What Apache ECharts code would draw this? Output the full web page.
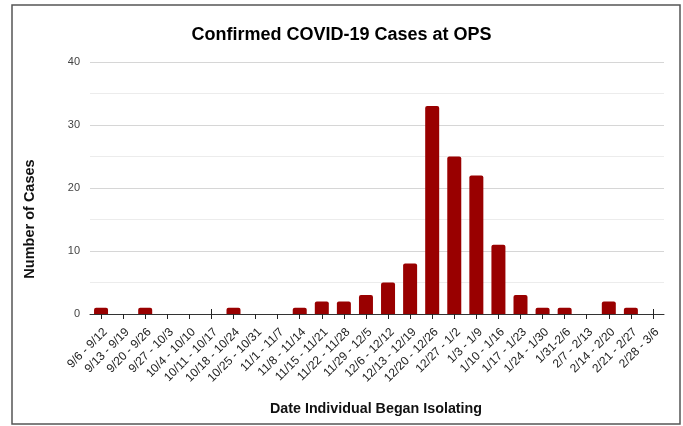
<!DOCTYPE html>
<html><head><meta charset="utf-8">
<script src="https://cdn.jsdelivr.net/npm/echarts@6/dist/echarts.min.js"></script>
<style>html,body{margin:0;padding:0;background:#fff}#c{width:683px;height:426px}</style>
</head><body><div id="c"></div>
<script>
const categories = ["9/6 - 9/12","9/13 - 9/19","9/20 - 9/26","9/27 - 10/3","10/4 - 10/10","10/11 - 10/17","10/18 - 10/24","10/25 - 10/31","11/1 - 11/7","11/8 - 11/14","11/15 - 11/21","11/22 - 11/28","11/29 - 12/5","12/6 - 12/12","12/13 - 12/19","12/20 - 12/26","12/27 - 1/2","1/3 - 1/9","1/10 - 1/16","1/17 - 1/23","1/24 - 1/30","1/31-2/6","2/7 - 2/13","2/14 - 2/20","2/21 - 2/27","2/28 - 3/6"];
const cases = [1,0,1,0,0,0,1,0,0,1,2,2,3,5,8,33,25,22,11,3,1,1,0,2,1,0];
const titleText = "Confirmed COVID-19 Cases at OPS";
const xTitle = "Date Individual Began Isolating";
const yTitle = "Number of Cases";

const chart = echarts.init(document.getElementById('c'));
const F = "'Liberation Sans', Arial, sans-serif";
const grid = {left: 90, right: 19, top: 62, bottom: 112};
chart.setOption({
  animation: false,
  title: {text: titleText, left: 'center', top: 21, textStyle: {fontFamily: F, fontSize: 18, fontWeight: 'bold', color: '#000'}},
  grid: grid,
  graphic: [
    {type: 'rect', shape: {x: 12, y: 5, width: 668, height: 419}, style: {fill: 'none', stroke: '#555', lineWidth: 1.5}, silent: true},
    {type: 'text', rotation: Math.PI/2, x: 30, y: 219, style: {text: yTitle, font: "bold 14.5px 'Liberation Sans', Arial, sans-serif", fill: '#111', textAlign: 'center', textVerticalAlign: 'middle'}},
    {type: 'text', x: 376, y: 409, style: {text: xTitle, font: "bold 14.3px 'Liberation Sans', Arial, sans-serif", fill: '#111', textAlign: 'center', textVerticalAlign: 'middle'}}
  ],
  xAxis: [{
    type: 'category', data: categories,
    axisLine: {lineStyle: {color: '#333', width: 1}},
    axisTick: {show: true, alignWithLabel: true, length: 5, lineStyle: {color: '#222', width: 1}},
    axisLabel: {rotate: 45, interval: 0, margin: 12, verticalAlign: 'top', fontFamily: F, fontSize: 12, color: '#222'}
  }, {
    type: 'category', data: categories, position: 'bottom',
    axisLine: {show: false},
    axisTick: {show: true, alignWithLabel: true, inside: true, length: 5, lineStyle: {color: '#222', width: 1}},
    axisLabel: {show: false}
  }],
  yAxis: {
    type: 'value', min: 0, max: 40, interval: 10,
    axisLine: {show: false}, axisTick: {show: false},
    axisLabel: {fontFamily: F, fontSize: 11, color: '#444', margin: 10},
    splitLine: {lineStyle: {color: '#d6d6d6', width: 1}},
    minorTick: {show: false, splitNumber: 2},
    minorSplitLine: {show: true, lineStyle: {color: '#ececec', width: 1}}
  },
  series: [{
    type: 'bar', data: cases, barWidth: 14, z: 1,
    itemStyle: {color: '#990000', borderRadius: [2, 2, 0, 0]}
  }]
});
</script></body></html>
